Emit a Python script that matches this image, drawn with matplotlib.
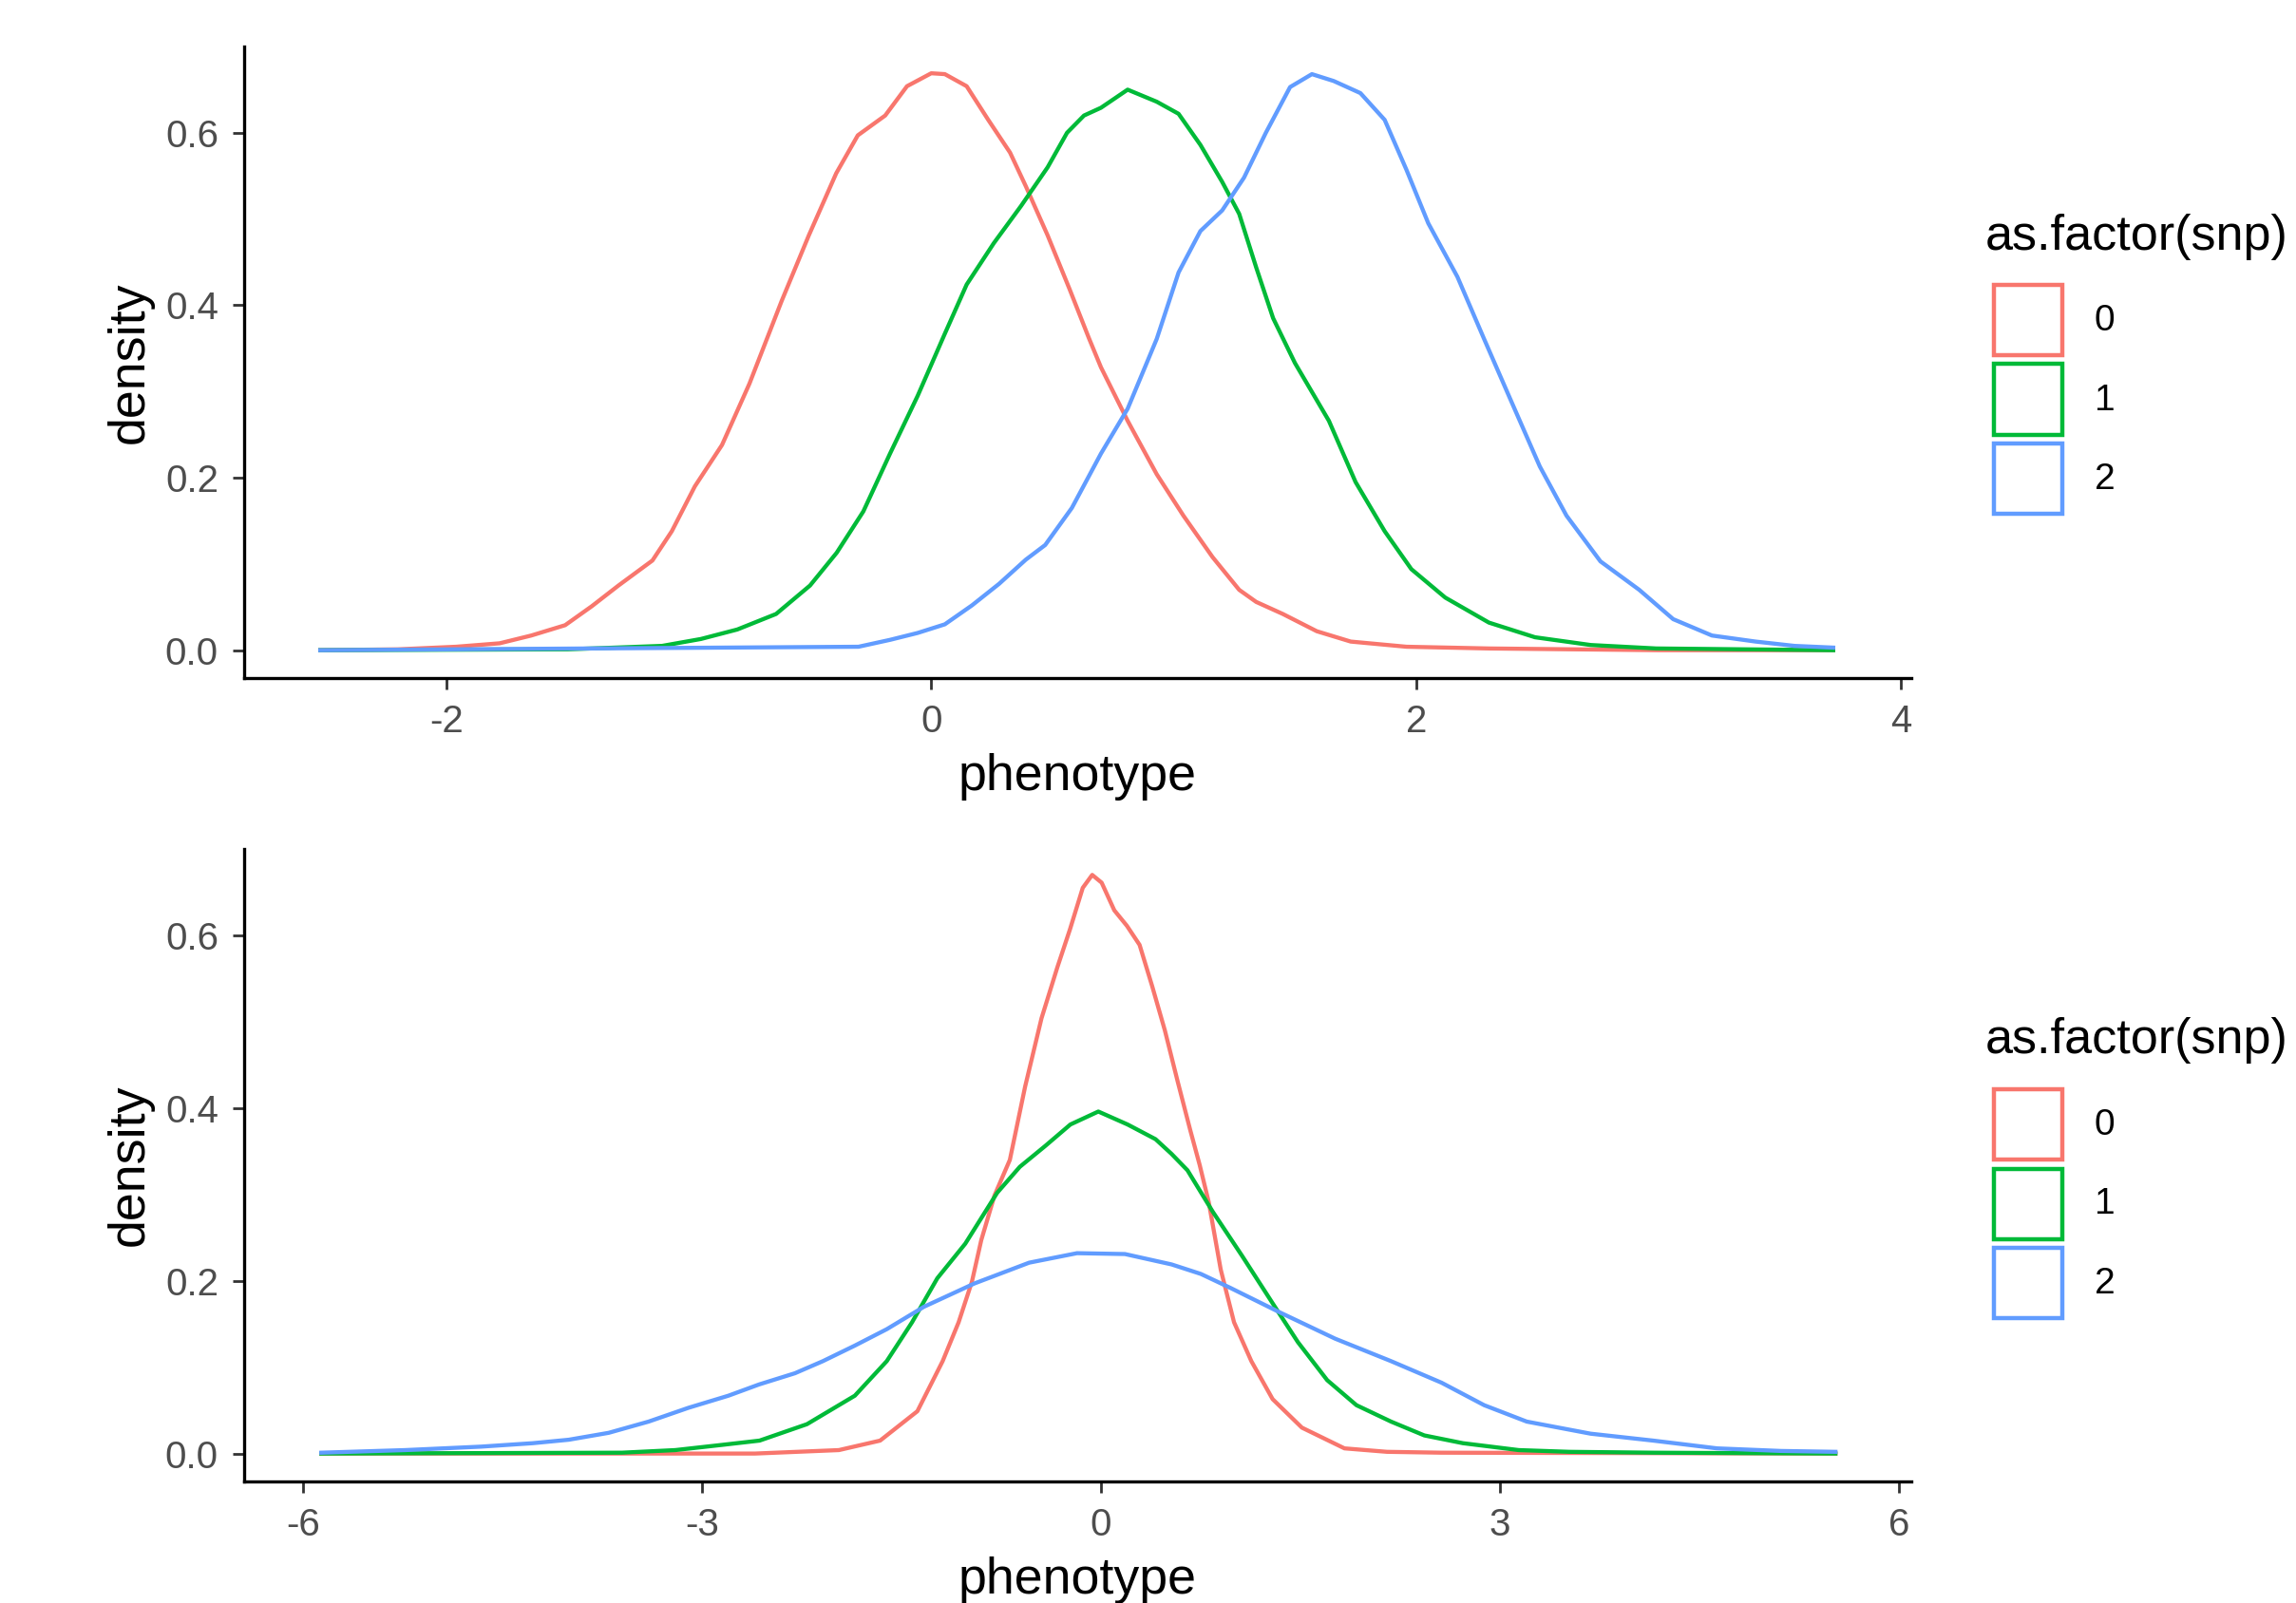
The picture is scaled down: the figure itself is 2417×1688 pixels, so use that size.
import numpy as np
import matplotlib.pyplot as plt
from matplotlib.patches import Rectangle

plt.rcParams['font.family'] = ['Liberation Sans', 'DejaVu Sans']
plt.rcParams['axes.unicode_minus'] = False

# ---- data: (phenotype, density) pairs per snp group ----
# top panel
top_x0 = [-2.52, -2.2, -1.96, -1.78, -1.65, -1.51, -1.40, -1.29, -1.15, -1.07, -0.975, -0.863,
          -0.75, -0.617, -0.505, -0.392, -0.303, -0.19, -0.10, 0.0, 0.056, 0.146, 0.235, 0.325,
          0.39, 0.48, 0.57, 0.65, 0.70, 0.81, 0.93, 1.04, 1.16, 1.27, 1.34, 1.45, 1.59, 1.73,
          1.96, 2.30, 3.0, 3.72]
top_y0 = [0.0, 0.001, 0.004, 0.008, 0.017, 0.029, 0.051, 0.075, 0.104, 0.138, 0.19, 0.238,
          0.309, 0.405, 0.481, 0.553, 0.597, 0.620, 0.654, 0.669, 0.668, 0.654, 0.615, 0.577,
          0.538, 0.481, 0.419, 0.362, 0.328, 0.266, 0.204, 0.156, 0.108, 0.070, 0.056, 0.042,
          0.022, 0.010, 0.004, 0.002, 0.0, 0.0]
top_x1 = [-2.52, -1.5, -1.11, -0.95, -0.80, -0.64, -0.50, -0.39, -0.28, -0.17, -0.056, 0.056,
          0.146, 0.258, 0.37, 0.48, 0.56, 0.63, 0.70, 0.81, 0.93, 1.02, 1.11, 1.20, 1.27, 1.34,
          1.41, 1.50, 1.64, 1.75, 1.87, 1.98, 2.12, 2.30, 2.49, 2.72, 2.99, 3.72]
top_y1 = [0.0, 0.001, 0.005, 0.013, 0.024, 0.042, 0.075, 0.113, 0.161, 0.228, 0.295, 0.367,
          0.424, 0.472, 0.515, 0.560, 0.600, 0.620, 0.629, 0.650, 0.636, 0.622, 0.586, 0.543,
          0.506, 0.444, 0.385, 0.333, 0.266, 0.195, 0.138, 0.094, 0.061, 0.032, 0.015, 0.006,
          0.002, 0.0]
top_x2 = [-2.52, -0.30, -0.17, -0.056, 0.056, 0.168, 0.28, 0.39, 0.47, 0.58, 0.70, 0.81, 0.93,
          1.02, 1.11, 1.20, 1.29, 1.38, 1.48, 1.57, 1.66, 1.77, 1.87, 1.96, 2.05, 2.17, 2.28,
          2.39, 2.51, 2.62, 2.76, 2.92, 3.06, 3.22, 3.40, 3.56, 3.72]
top_y2 = [0.0, 0.004, 0.012, 0.020, 0.030, 0.052, 0.077, 0.105, 0.122, 0.165, 0.228, 0.280,
          0.361, 0.438, 0.486, 0.510, 0.548, 0.600, 0.653, 0.668, 0.660, 0.646, 0.615, 0.557,
          0.495, 0.433, 0.361, 0.290, 0.213, 0.156, 0.103, 0.070, 0.036, 0.017, 0.010, 0.005,
          0.003]

# bottom panel
bot_x0 = [-5.86, -2.6, -1.97, -1.66, -1.38, -1.19, -1.07, -0.97, -0.90, -0.80, -0.685, -0.57,
          -0.447, -0.328, -0.233, -0.137, -0.066, 0.005, 0.10, 0.195, 0.29, 0.385, 0.48, 0.576,
          0.67, 0.742, 0.81, 0.90, 1.00, 1.13, 1.29, 1.51, 1.83, 2.15, 2.56, 5.52]
bot_y0 = [0.0, 0.0, 0.004, 0.015, 0.049, 0.107, 0.152, 0.199, 0.247, 0.299, 0.340, 0.425,
          0.504, 0.563, 0.607, 0.655, 0.670, 0.661, 0.629, 0.611, 0.589, 0.541, 0.490, 0.431,
          0.375, 0.334, 0.291, 0.213, 0.152, 0.107, 0.063, 0.030, 0.006, 0.002, 0.001, 0.0]
bot_x1 = [-5.86, -3.6, -3.2, -2.85, -2.566, -2.21, -1.85, -1.61, -1.42, -1.23, -1.02, -0.78,
          -0.61, -0.42, -0.23, -0.02, 0.20, 0.41, 0.53, 0.65, 0.84, 1.06, 1.29, 1.48, 1.70,
          1.92, 2.18, 2.43, 2.72, 3.14, 3.52, 4.15, 5.52]
bot_y1 = [0.0, 0.001, 0.004, 0.010, 0.015, 0.034, 0.067, 0.107, 0.152, 0.203, 0.243, 0.302,
          0.332, 0.356, 0.381, 0.396, 0.381, 0.364, 0.347, 0.328, 0.280, 0.229, 0.174, 0.129,
          0.085, 0.056, 0.037, 0.021, 0.012, 0.004, 0.002, 0.001, 0.0]
bot_x2 = [-5.86, -5.23, -4.66, -4.27, -4.0, -3.7, -3.4, -3.1, -2.8, -2.57, -2.3, -2.09, -1.85,
          -1.61, -1.33, -0.95, -0.54, -0.18, 0.18, 0.53, 0.75, 0.97, 1.35, 1.76, 2.18, 2.56,
          2.88, 3.20, 3.68, 4.15, 4.63, 5.11, 5.52]
bot_y2 = [0.001, 0.004, 0.008, 0.012, 0.016, 0.024, 0.037, 0.053, 0.067, 0.080, 0.093, 0.107,
          0.125, 0.144, 0.170, 0.197, 0.221, 0.232, 0.231, 0.219, 0.208, 0.192, 0.163, 0.133,
          0.107, 0.082, 0.056, 0.037, 0.023, 0.015, 0.006, 0.003, 0.002]

groups = ['0', '1', '2']
colors = ['#F8766D', '#00BA38', '#619CFF']

top_xt = [-2, 0, 2, 4]
bot_xt = [-6, -3, 0, 3, 6]
y_ticks = [0.0, 0.2, 0.4, 0.6]

W, H = 2417, 1688
fig = plt.figure(figsize=(W / 100, H / 100), dpi=100)


def style_axes(ax, xticks, xlim):
    ax.set_xlim(*xlim)
    ax.set_ylim(-0.0323, 0.70)
    ax.set_xticks(xticks)
    ax.set_xticklabels([str(t) for t in xticks])
    ax.set_yticks(y_ticks)
    ax.set_yticklabels(['%.1f' % t for t in y_ticks])
    for s in ['top', 'right']:
        ax.spines[s].set_visible(False)
    for s in ['left', 'bottom']:
        ax.spines[s].set_linewidth(2.4)
        ax.spines[s].set_color('black')
    ax.tick_params(length=8.5, width=2.0, color='#333333', labelsize=29,
                   labelcolor='#4D4D4D', pad=11)
    ax.set_xlabel('phenotype', fontsize=38.7, labelpad=10)
    ax.set_ylabel('density', fontsize=38.7, labelpad=9)


def legend(ytitle):
    # ggplot style legend drawn in figure pixels
    fig.text(2090 / W, 1 - ytitle / H, 'as.factor(snp)', fontsize=37.5,
             va='center', ha='left')
    for i, (g, c) in enumerate(zip(groups, colors)):
        top = ytitle + 51 + i * 83.5
        fig.add_artist(Rectangle((2099 / W, 1 - (top + 74) / H), 72 / W, 74 / H,
                                 transform=fig.transFigure, facecolor='white',
                                 edgecolor=c, lw=3.2))
        fig.text(2205 / W, 1 - (top + 38) / H, g, fontsize=28, va='center', ha='left')


ax1 = fig.add_axes([257 / W, 1 - 714 / H, (2012 - 257) / W, (714 - 49) / H])
for xs, ys, c in zip([top_x0, top_x1, top_x2], [top_y0, top_y1, top_y2], colors):
    ax1.plot(xs, ys, color=c, lw=3.1, solid_joinstyle='round')
style_axes(ax1, top_xt, (-2.834, 4.042))
legend(249)

ax2 = fig.add_axes([257 / W, 1 - 1560 / H, (2012 - 257) / W, (1560 - 894) / H])
for xs, ys, c in zip([bot_x0, bot_x1, bot_x2], [bot_y0, bot_y1, bot_y2], colors):
    ax2.plot(xs, ys, color=c, lw=3.1, solid_joinstyle='round')
style_axes(ax2, bot_xt, (-6.44, 6.09))
legend(1096)

plt.savefig('out.png', dpi=100)
